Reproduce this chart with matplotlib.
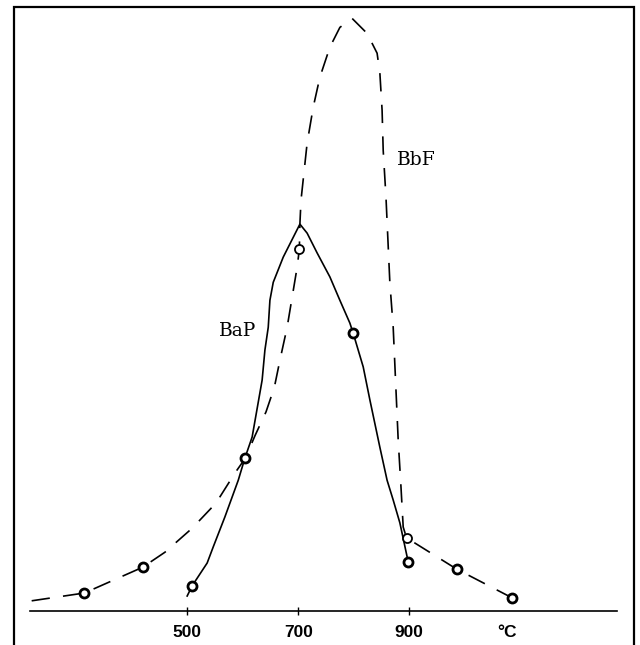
import numpy as np
import matplotlib
matplotlib.use("Agg")
import matplotlib.pyplot as plt
from matplotlib.patches import Rectangle

# temperature (degC) and relative amount
bbf_t = [220, 315, 420, 460, 509, 552, 586, 605, 622, 642, 657, 667, 680, 689,
         698, 702, 703, 705, 716, 727, 739, 757, 775, 797, 824, 842, 847, 851,
         853, 858, 865, 871, 880, 885, 889, 895, 985, 1085]
bbf_v = [1.7, 3.0, 7.3, 9.8, 13.8, 18.0, 23.0, 25.5, 29.2, 33.2, 37.3, 41.8,
         47.3, 52.3, 57.3, 60.3, 64.5, 68.5, 78.0, 84.0, 89.0, 94.0, 97.3, 98.8,
         96.3, 93.0, 89.7, 83.5, 76.8, 69.0, 54.7, 47.3, 28.5, 20.7, 14.0, 12.2,
         7.0, 2.2]

bap_t = [500, 509, 536, 547, 568, 592, 604, 617, 635, 640, 646, 649, 655, 673,
         691, 703, 716, 734, 757, 775, 793, 799, 817, 829, 847, 860, 871, 883, 898]
bap_v = [2.5, 4.2, 8.0, 10.7, 15.7, 21.8, 25.5, 29.0, 38.5, 43.5, 47.3, 51.8,
         54.8, 59.0, 62.3, 64.5, 63.0, 59.7, 55.7, 51.8, 48.0, 46.3, 40.7, 35.2,
         27.3, 21.8, 18.5, 14.7, 8.2]

# measured points
bap_pt_t = [509, 604, 799, 898]
bap_pt_v = [4.2, 25.5, 46.3, 8.2]
bbf_pt_t = [315, 420, 985, 1085]
bbf_pt_v = [3.0, 7.3, 7.0, 2.2]
bbf_open_t = [702, 895]
bbf_open_v = [60.3, 12.2]

tick_pos = [500, 700, 900, 1076]
tick_lab = ["500", "700", "900", "°C"]

fig = plt.figure(figsize=(6.4, 6.45), dpi=100)
ax = fig.add_axes([30 / 640, 34 / 645, 587 / 640, 604 / 645])

ax.plot(bbf_t, bbf_v, color="black", lw=1.2, ls=(0, (11, 8)))
ax.plot(bap_t, bap_v, color="black", lw=1.2)

mk = dict(ls="none", marker="o", ms=6.5, mfc="white", mec="black", mew=2)
ax.plot(bap_pt_t, bap_pt_v, **mk)
ax.plot(bbf_pt_t, bbf_pt_v, **mk)
ax.plot(bbf_open_t, bbf_open_v, ls="none", marker="o", ms=6.5, mfc="white",
        mec="black", mew=1.3)

ax.text(590, 46.7, "BaP", family="DejaVu Serif", fontsize=13.5,
        ha="center", va="center")
ax.text(912, 75.2, "BbF", family="DejaVu Serif", fontsize=13.5,
        ha="center", va="center")

ax.set_xlim(217, 1274)
ax.set_ylim(0, 100.7)
ax.set_xticks(tick_pos)
ax.set_xticklabels(tick_lab, family="Liberation Sans", fontweight="bold",
                   fontsize=12.5)
ax.tick_params(axis="x", direction="inout", length=6, width=1, pad=7)
ax.xaxis.get_major_ticks()[3].tick1line.set_visible(False)
ax.set_yticks([])
for s in ["left", "right", "top"]:
    ax.spines[s].set_visible(False)
ax.spines["bottom"].set_linewidth(1.2)
ax.patch.set_visible(False)

# frame round the whole figure
fig.patches.append(Rectangle((14 / 640, -0.05), 620 / 640, 1.05 - 7 / 645,
                             transform=fig.transFigure, fill=False,
                             lw=1.6, ec="black"))

fig.savefig("out.png", dpi=100, facecolor="white")
